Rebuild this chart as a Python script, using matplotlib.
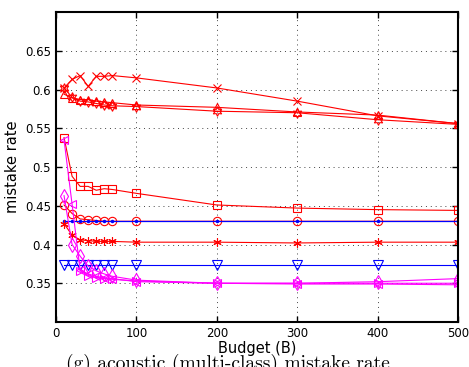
import matplotlib
matplotlib.use("Agg")
import matplotlib.pyplot as plt

budget = [10, 20, 30, 40, 50, 60, 70, 100, 200, 300, 400, 500]

red_x = [0.602, 0.613, 0.618, 0.604, 0.617, 0.617, 0.618, 0.615, 0.602, 0.585, 0.566, 0.556]
red_tri = [0.594, 0.589, 0.587, 0.587, 0.585, 0.584, 0.583, 0.580, 0.577, 0.571, 0.567, 0.556]
red_hex = [0.602, 0.590, 0.585, 0.584, 0.582, 0.580, 0.579, 0.578, 0.572, 0.570, 0.561, 0.555]
red_sq = [0.538, 0.488, 0.475, 0.475, 0.470, 0.472, 0.471, 0.466, 0.451, 0.447, 0.445, 0.444]
red_circ = [0.451, 0.440, 0.433, 0.432, 0.431, 0.430, 0.430, 0.430, 0.430, 0.430, 0.430, 0.430]
blue_dot = [0.430, 0.430, 0.430, 0.430, 0.430, 0.430, 0.430, 0.430, 0.430, 0.430, 0.430, 0.430]
red_star = [0.427, 0.412, 0.406, 0.405, 0.404, 0.404, 0.404, 0.403, 0.403, 0.402, 0.403, 0.403]
blue_tri = [0.373, 0.373, 0.373, 0.373, 0.373, 0.373, 0.373, 0.373, 0.373, 0.373, 0.373, 0.373]
mag_dia = [0.463, 0.400, 0.385, 0.372, 0.366, 0.362, 0.359, 0.354, 0.350, 0.350, 0.352, 0.356]
mag_left = [0.535, 0.452, 0.367, 0.362, 0.359, 0.357, 0.356, 0.352, 0.350, 0.349, 0.349, 0.348]
budget_late = [30, 40, 50, 60, 70, 100, 200, 300, 400, 500]
mag_right = [0.366, 0.360, 0.357, 0.356, 0.355, 0.353, 0.350, 0.350, 0.350, 0.350]

fig = plt.figure(figsize=(4.69, 3.67), dpi=100)
ax = fig.add_axes([0.1194, 0.1226, 0.8571, 0.8447])

ms = 6
kw = dict(linewidth=0.8, markerfacecolor="none", markeredgewidth=0.8)
ax.plot(budget, red_x, color="red", marker="x", markersize=ms, **kw)
ax.plot(budget, red_tri, color="red", marker="^", markersize=ms, **kw)
ax.plot(budget, red_hex, color="red", marker=(6, 1, 0), markersize=ms + 1, **kw)
ax.plot(budget, red_sq, color="red", marker="s", markersize=ms, **kw)
ax.plot(budget, red_circ, color="red", marker="o", markersize=ms, **kw)
ax.plot(budget, blue_dot, color="blue", marker=".", markersize=3, linewidth=0.9)
ax.plot(budget, red_star, color="red", marker=(6, 2, 0), markersize=ms, **kw)
ax.plot(budget, blue_tri, color="blue", marker="v", markersize=ms + 1, **kw)
ax.plot(budget, mag_dia, color="magenta", marker="d", markersize=ms + 1, **kw)
ax.plot(budget, mag_left, color="magenta", marker="<", markersize=ms, **kw)
ax.plot(budget_late, mag_right, color="magenta", marker=">", markersize=ms, **kw)

ax.set_xlim(0, 500)
ax.set_ylim(0.3, 0.7)
ax.set_xticks([0, 100, 200, 300, 400, 500])
ax.set_yticks([0.35, 0.4, 0.45, 0.5, 0.55, 0.6, 0.65])
ax.set_yticklabels(["0.35", "0.4", "0.45", "0.5", "0.55", "0.6", "0.65"])
ax.grid(True, linestyle=(0, (1, 4)), color="#444444", linewidth=0.7)
ax.tick_params(direction="in", labelsize=8.5, length=4, width=1, top=True, right=True)
for s in ax.spines.values():
    s.set_linewidth(1.5)

ax.set_xlabel("Budget (B)", fontsize=10.5, labelpad=1)
ax.set_ylabel("mistake rate", fontsize=10.5, labelpad=4)

fig.text(0.485, 0.008, "(g) acoustic (multi-class) mistake rate", fontsize=14,
         family="cmr10", ha="center", va="center")

fig.savefig("out.png", dpi=100)
